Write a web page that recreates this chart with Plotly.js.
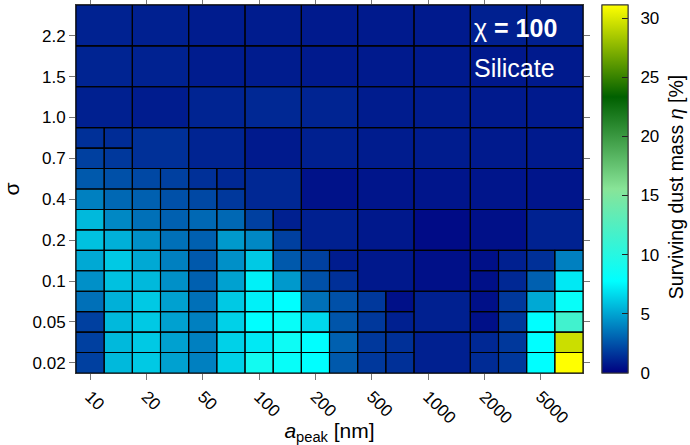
<!DOCTYPE html>
<html>
<head>
<meta charset="utf-8">
<script src="https://cdn.plot.ly/plotly-3.0.1.min.js"></script>
<style>html,body{margin:0;padding:0;background:#fff;}#chart{width:690px;height:445px;}</style>
</head>
<body>
<div id="chart"></div>
<script>
// x categories (a_peak, nm) labelled on every second fine column
const aPeakLabels = ['10','20','50','100','200','500','1000','2000','5000'];
// y categories (sigma) labelled on every second fine row
const sigmaLabels = ['0.02','0.05','0.1','0.2','0.4','0.7','1.0','1.5','2.2'];
// colour bar ticks
const etaTicks = [0,5,10,15,20,25,30];

// Surviving dust mass eta [%] on the fine 18x18 grid, rows from bottom (row 0) to top (row 17)
const eta_r00 = [1.96,5.63,6.12,4.9,3.9,6.36,8.8,8.2,7.8,2.7,1.71,1.47,0.98,0.98,1.3,1.71,7.8,31.1];
const eta_r01 = [1.96,5.63,6.12,4.9,3.9,6.36,7.1,8.5,7.8,2.94,1.71,1.47,0.98,0.98,1.22,1.71,7.8,29.5];
const eta_r02 = [1.96,5.63,6.12,4.9,3.9,6.36,7.8,8.2,6.6,2.6,1.71,0.98,0.98,0.98,0.49,1.71,7.8,11.5];
const eta_r03 = [3.43,5.38,6.12,4.9,3.43,6.12,7.34,7.8,3.43,2.45,1.71,0.49,0.98,0.98,0.49,1.71,5.14,8.2];
const eta_r04 = [4.4,5.87,5.63,4.4,2.94,4.9,7.34,4.65,2.45,1.47,0.73,0.73,0.49,0.49,0.49,1.22,2.94,7.1];
const eta_r05 = [5.14,6.12,5.14,3.9,2.7,4.4,6.12,2.7,1.96,0.85,0.73,0.73,0.49,0.49,0.49,0.98,1.47,3.9];
const eta_r06 = [5.87,5.38,4.4,3.43,2.94,4.65,4.16,1.96,0.98,0.98,0.73,0.73,0.35,0.35,0.49,0.49,1.04,1.04];
const eta_r07 = [5.63,4.16,3.43,2.94,3.18,3.18,1.96,0.98,0.98,0.98,0.73,0.73,0.35,0.35,0.49,0.49,1.04,1.04];
const eta_r08 = [3.9,3.18,2.94,2.45,2.2,1.71,1.22,1.22,0.55,0.55,0.65,0.65,0.65,0.65,0.65,0.65,0.65,0.65];
const eta_r09 = [2.7,2.45,2.2,1.96,1.47,1.22,1.22,1.22,0.55,0.55,0.65,0.65,0.65,0.65,0.65,0.65,0.65,0.65];
const eta_r10 = [1.96,1.71,1.47,1.47,1.1,1.1,0.8,0.8,0.98,0.98,0.86,0.86,0.86,0.86,0.8,0.8,0.8,0.8];
const eta_r11 = [1.47,1.35,1.47,1.47,1.1,1.1,0.8,0.8,0.98,0.98,0.86,0.86,0.86,0.86,0.8,0.8,0.8,0.8];
const eta_r12 = [0.98,0.98,0.86,0.86,1.1,1.1,1.22,1.22,1.1,1.1,0.86,0.86,0.86,0.86,0.8,0.8,0.8,0.8];
const eta_r13 = [0.98,0.98,0.86,0.86,1.1,1.1,1.22,1.22,1.1,1.1,0.86,0.86,0.86,0.86,0.8,0.8,0.8,0.8];
const eta_r14 = [1.1,1.1,1.04,1.04,0.86,0.86,0.86,0.86,0.8,0.8,0.8,0.8,0.8,0.8,0.73,0.73,0.8,0.8];
const eta_r15 = [1.1,1.1,1.04,1.04,0.86,0.86,0.86,0.86,0.8,0.8,0.8,0.8,0.8,0.8,0.73,0.73,0.8,0.8];
const eta_r16 = [1.04,1.04,0.98,0.98,0.86,0.86,0.86,0.86,0.8,0.8,0.8,0.8,0.8,0.8,0.98,0.98,0.98,0.98];
const eta_r17 = [1.04,1.04,0.98,0.98,0.86,0.86,0.86,0.86,0.8,0.8,0.8,0.8,0.8,0.8,0.98,0.98,0.98,0.98];

// Adaptive mesh: which 2x2 coarse blocks are refined (rows from bottom, 9 coarse columns)
const refinedMask = [
  '111111011',
  '111111011',
  '111110011',
  '111100000',
  '111000000',
  '100000000',
  '000000000',
  '000000000',
  '000000000'
];

const z = [eta_r00,eta_r01,eta_r02,eta_r03,eta_r04,eta_r05,eta_r06,eta_r07,eta_r08,
           eta_r09,eta_r10,eta_r11,eta_r12,eta_r13,eta_r14,eta_r15,eta_r16,eta_r17];
const nx = z[0].length, ny = z.length;
const xs = Array.from({length:nx},(_,i)=>i);
const ys = Array.from({length:ny},(_,i)=>i);
const ZMAX = 31.1;
const CSCALE = [[0,'#000080'],[0.25,'#00ffff'],[0.5,'#88e498'],[0.75,'#006000'],[1,'#ffff00']];

// Cell borders following the mesh
const bx = [], by = [];
function rect(c0, r0, span){
  const x0=c0-0.5, x1=c0+span-0.5, y0=r0-0.5, y1=r0+span-0.5;
  bx.push(x0,x1,x1,x0,x0,null); by.push(y0,y0,y1,y1,y0,null);
}
refinedMask.forEach((row,J)=>{
  row.split('').forEach((f,I)=>{
    if(f==='1'){
      for(let dj=0;dj<2;dj++) for(let di=0;di<2;di++) rect(2*I+di,2*J+dj,1);
    } else rect(2*I,2*J,2);
  });
});

const FONT = 'Liberation Sans, Arial, sans-serif';
const cbBase = {x:1.0375, xanchor:'left', xpad:0, y:0.5, yanchor:'middle', ypad:0, len:1, lenmode:'fraction',
     thickness:26, outlinewidth:1, outlinecolor:'#333', tickmode:'array', tickvals:etaTicks};
const data = [
  {type:'heatmap', x:xs, y:ys, z:z, zmin:0, zmax:ZMAX, zsmooth:false, hoverinfo:'skip',
   colorscale:CSCALE,
   colorbar:Object.assign({}, cbBase, {ticks:'outside', ticklen:9, tickcolor:'rgba(0,0,0,0)',
     tickfont:{size:17, family:FONT, color:'#000'}})},
  {type:'scatter', mode:'lines', x:bx, y:by, line:{color:'#000', width:1.1}, hoverinfo:'skip', showlegend:false, connectgaps:false},
  // second colour bar carrying only the inner tick marks
  {type:'scatter', mode:'markers', x:[null], y:[null], hoverinfo:'skip', showlegend:false,
   marker:{color:[0], cmin:0, cmax:ZMAX, colorscale:CSCALE, showscale:true,
     colorbar:Object.assign({}, cbBase, {ticks:'inside', ticklen:6, tickcolor:'#222', showticklabels:false})}}
];

const layout = {
  width:690, height:445,
  margin:{l:76, r:107, t:5, b:72},
  paper_bgcolor:'#fff', plot_bgcolor:'#fff',
  font:{family:FONT, size:17, color:'#000'},
  showlegend:false,
  xaxis:{range:[-0.5,17.5], tickmode:'array', tickvals:[0,2,4,6,8,10,12,14,16], ticktext:aPeakLabels,
    tickangle:45, ticks:'outside', ticklen:6, tickcolor:'#777', showgrid:false, zeroline:false,
    showline:true, linecolor:'#333', linewidth:1, mirror:'ticks',
    tickfont:{size:17, family:FONT},
    title:{text:'<i>a</i><sub>peak</sub> [nm]', font:{size:21, family:FONT}, standoff:2}},
  yaxis:{range:[-0.5,17.5], tickmode:'array', tickvals:[0,2,4,6,8,10,12,14,16], ticktext:sigmaLabels,
    ticks:'outside', ticklen:6, tickcolor:'#777', showgrid:false, zeroline:false,
    showline:true, linecolor:'#333', linewidth:1, mirror:'ticks',
    tickfont:{size:17, family:FONT},
    title:{text:'σ', font:{size:21, family:FONT}, standoff:8}},
  annotations:[
    {xref:'paper', yref:'paper', x:0.781, y:0.9375, xanchor:'left', yanchor:'middle', showarrow:false,
     text:'χ <b>= 100</b>', font:{size:25, family:FONT, color:'#fff'}},
    {xref:'paper', yref:'paper', x:0.781, y:0.829, xanchor:'left', yanchor:'middle', showarrow:false,
     text:'Silicate', font:{size:25, family:FONT, color:'#fff'}},
    {xref:'paper', yref:'paper', x:1.1835, y:0.505, xanchor:'center', yanchor:'middle', showarrow:false,
     textangle:-90, text:'Surviving dust mass <i>η</i> [%]', font:{size:19.5, family:FONT, color:'#000'}}
  ]
};

Plotly.newPlot('chart', data, layout, {displayModeBar:false, staticPlot:true});
</script>
</body>
</html>
